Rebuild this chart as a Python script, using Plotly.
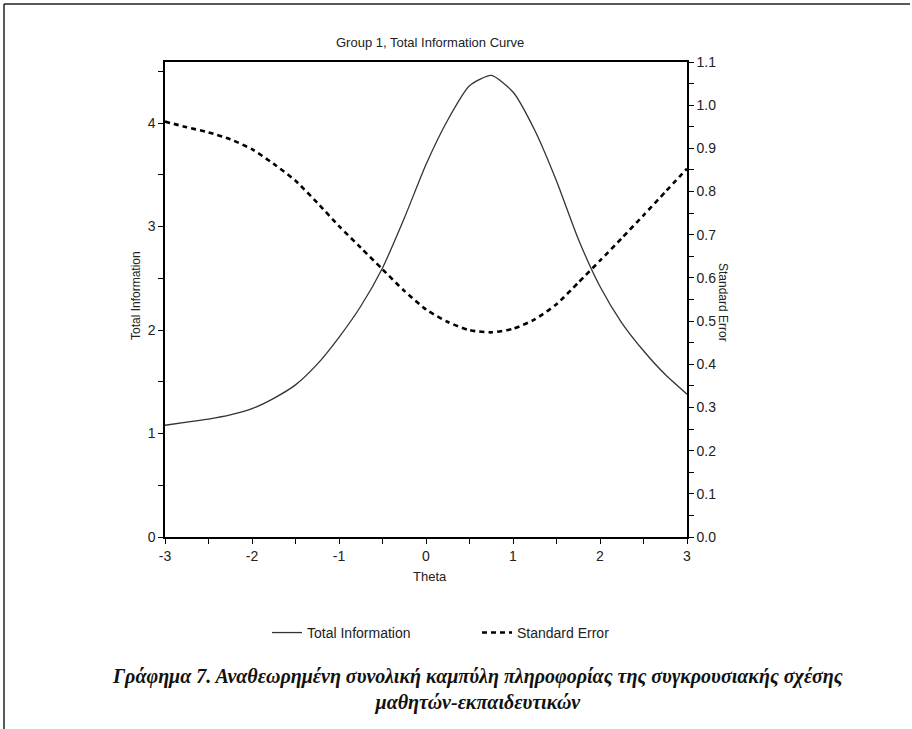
import plotly.graph_objects as go

theta = [-3, -2.75, -2.5, -2.25, -2, -1.75, -1.5, -1.25, -1, -0.75, -0.5, -0.25,
         0, 0.25, 0.5, 0.75, 1.0, 1.25, 1.5, 1.75, 2.0, 2.25, 2.5, 2.75, 3.0]
total_information = [1.08, 1.11, 1.14, 1.18, 1.24, 1.34, 1.47, 1.67, 1.93, 2.23, 2.60, 3.08,
                     3.60, 4.03, 4.36, 4.46, 4.30, 3.93, 3.44, 2.88, 2.42, 2.07, 1.80, 1.57, 1.38]
standard_error = [0.962, 0.949, 0.937, 0.921, 0.898, 0.864, 0.825, 0.774, 0.720, 0.670, 0.620, 0.570,
                  0.527, 0.498, 0.479, 0.474, 0.482, 0.504, 0.539, 0.589, 0.640, 0.692, 0.745, 0.799, 0.853]

x_ticks = [-3, -2, -1, 0, 1, 2, 3]
x_tick_labels = ["-3", "-2", "-1", "0", "1", "2", "3"]
left_ticks = [0, 1, 2, 3, 4]
right_ticks = [0.0, 0.1, 0.2, 0.3, 0.4, 0.5, 0.6, 0.7, 0.8, 0.9, 1.0, 1.1]

title_text = "Group 1, Total Information Curve"
caption = ("<b><i>Γράφημα 7. Αναθεωρημένη συνολική καμπύλη πληροφορίας της συγκρουσιακής σχέσης"
           "<br>μαθητών-εκπαιδευτικών</i></b>")

FONT = "Liberation Sans, Arial, sans-serif"

fig = go.Figure()
fig.add_trace(go.Scatter(x=theta, y=total_information, name="Total Information",
                         mode="lines", line=dict(color="#333", width=1.3, shape="spline", smoothing=0.6),
                         yaxis="y"))
fig.add_trace(go.Scatter(x=theta, y=standard_error, name="Standard Error",
                         mode="lines", line=dict(color="#000", width=2.6, dash="5px,4px",
                                                 shape="spline", smoothing=0.6),
                         yaxis="y2"))

axis_common = dict(showgrid=False, zeroline=False, showline=True, linecolor="#000",
                   linewidth=1.5, ticks="outside", ticklen=5, tickcolor="#000",
                   tickfont=dict(family=FONT, size=14, color="#222"))

fig.update_layout(
    width=912, height=729,
    margin=dict(l=165, r=225, t=62, b=192),
    paper_bgcolor="white", plot_bgcolor="white",
    font=dict(family=FONT, size=12, color="#222"),
    showlegend=True,
    legend=dict(orientation="h", x=(267 - 165) / 522, y=-0.202, xanchor="left", yanchor="middle",
                font=dict(family=FONT, size=14), entrywidth=165, entrywidthmode="pixels",
                bgcolor="rgba(0,0,0,0)"),
    xaxis=dict(range=[-3, 3], tickvals=x_ticks, ticktext=x_tick_labels, mirror=True,
               minor=dict(dtick=0.5, ticks="outside", ticklen=5, tickcolor="#000"),
               **axis_common),
    yaxis=dict(range=[0, 4.59], tickvals=left_ticks,
               minor=dict(dtick=0.5, ticks="outside", ticklen=5, tickcolor="#000"),
               **axis_common),
    yaxis2=dict(range=[0, 1.1], tickvals=right_ticks, tickformat=".1f",
                overlaying="y", side="right",
                minor=dict(dtick=0.05, ticks="outside", ticklen=5, tickcolor="#000"),
                **axis_common),
)

def px_x(px):
    return (px - 165) / 522

def px_y(py):
    return (537 - py) / 475

annotations = [
    dict(text=title_text, x=px_x(430), y=px_y(42), font=dict(size=13)),
    dict(text="Theta", x=px_x(430), y=px_y(576), font=dict(size=13)),
    dict(text="Total Information", x=px_x(136), y=px_y(296), textangle=-90, font=dict(size=12)),
    dict(text="Standard Error", x=px_x(723), y=px_y(302), textangle=90, font=dict(size=12)),
    dict(text=caption, x=px_x(477), y=px_y(689),
         font=dict(family="Liberation Serif, Times New Roman, serif", size=20, color="#111")),
]
for a in annotations:
    a.update(xref="paper", yref="paper", showarrow=False, xanchor="center", yanchor="middle")
fig.update_layout(annotations=annotations)

fig.update_layout(shapes=[
    dict(type="line", xref="paper", yref="paper", x0=px_x(4), x1=px_x(4), y0=px_y(4), y1=px_y(729),
         line=dict(color="#222", width=1.5)),
    dict(type="line", xref="paper", yref="paper", x0=px_x(4), x1=px_x(910), y0=px_y(4), y1=px_y(4),
         line=dict(color="#222", width=1.5)),
])

fig.write_html("out.html", config={"displayModeBar": False},
               post_script="document.body.style.margin='0';")
